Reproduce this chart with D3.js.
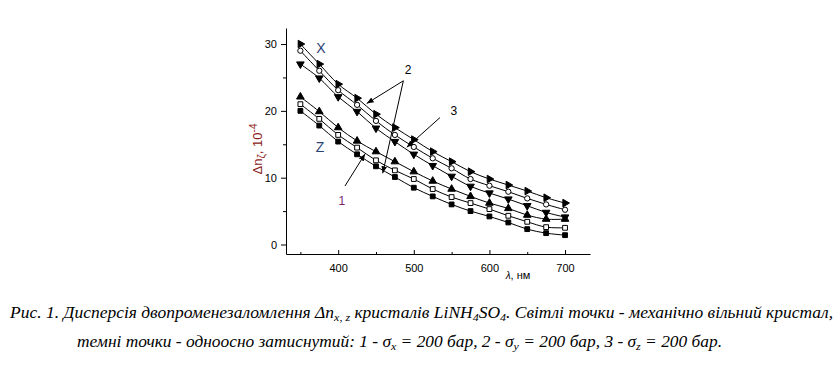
<!DOCTYPE html>
<html><head><meta charset="utf-8">
<script src="https://cdn.jsdelivr.net/npm/d3@7"></script>
<style>html,body{margin:0;padding:0;background:#fff;}svg{display:block;}</style>
</head><body>
<svg id="chart" width="840" height="367"></svg>
<script>
// ---- data ----
const lambda = [350,375,400,425,450,475,500,525,550,575,600,625,650,675,700];
const seriesRightTri = [30.0,27.0,24.0,21.9,19.5,17.5,15.7,13.9,12.4,10.9,9.8,8.9,8.0,7.0,6.2];
const seriesCircle   = [29.0,26.0,23.1,20.9,18.5,16.4,14.6,12.9,11.4,9.8,8.8,7.9,6.9,6.0,5.2];
const seriesDownTri  = [27.0,24.9,22.1,19.9,17.4,15.4,13.5,11.8,10.2,8.7,7.7,6.8,5.8,4.8,4.1];
const seriesUpTri    = [22.1,19.9,17.5,15.5,13.9,12.4,10.9,9.5,8.3,7.2,6.2,5.4,4.4,3.8,3.8];
const seriesOpenSq   = [21.0,18.8,16.4,14.5,12.6,11.1,9.8,8.3,7.1,6.2,5.3,4.3,3.4,2.6,2.5];
const seriesFilledSq = [20.0,17.8,15.4,13.5,11.7,10.1,8.5,7.2,6.0,5.0,4.2,3.3,2.3,1.7,1.4];
const yTicks = [0,10,20,30];
const xTicks = [400,500,600,700];

const svg = d3.select("#chart");
const x = d3.scaleLinear().domain([331,733]).range([286,590]);
const y = d3.scaleLinear().domain([-1.42,32.4]).range([254,28]);

// axes
const yAxis = d3.axisLeft(y).tickValues(yTicks).tickSize(5).tickSizeOuter(0).tickPadding(4);
const gy = svg.append("g").attr("transform","translate(286,0)").call(yAxis);
const yMinor = d3.axisLeft(y).tickValues([5,15,25]).tickSize(3).tickSizeOuter(0).tickFormat("");
const gym = svg.append("g").attr("transform","translate(286,0)").call(yMinor);
gym.select(".domain").remove();

const xAxis = d3.axisBottom(x).tickValues(xTicks).tickSize(-4).tickSizeOuter(0).tickPadding(10);
const gx = svg.append("g").attr("transform","translate(0,254)").call(xAxis);
const xMinor = d3.axisBottom(x).tickValues([350,450,550,650]).tickSize(-2).tickSizeOuter(0).tickFormat("");
const gxm = svg.append("g").attr("transform","translate(0,254)").call(xMinor);
gxm.select(".domain").remove();

[gx,gy].forEach(g=>{
  g.selectAll("text").attr("font-family","Arial, 'Liberation Sans', sans-serif").attr("font-size",11).attr("fill","#000");
});
svg.selectAll(".domain").attr("stroke","#000").attr("stroke-width",1);
svg.selectAll(".tick line").attr("stroke","#000");

// curves
const series = [
  {v:seriesRightTri, shape:"tri", rot:90, fill:"#000"},
  {v:seriesCircle, shape:"circle", rot:0, fill:"#fff"},
  {v:seriesDownTri, shape:"tri", rot:180, fill:"#000"},
  {v:seriesUpTri, shape:"tri", rot:0, fill:"#000"},
  {v:seriesOpenSq, shape:"sq", rot:0, fill:"#fff"},
  {v:seriesFilledSq, shape:"sq", rot:0, fill:"#000"}
];
const line = d3.line().x(d=>x(d[0])).y(d=>y(d[1])).curve(d3.curveCatmullRom.alpha(0.5));
series.forEach(s=>{
  const pts = lambda.map((l,i)=>[l,s.v[i]]);
  svg.append("path").attr("d",line(pts)).attr("fill","none").attr("stroke","#000").attr("stroke-width",1);
});
series.forEach(s=>{
  const pts = lambda.map((l,i)=>[l,s.v[i]]);
  let sym;
  if(s.shape==="tri") sym = d3.symbol().type(d3.symbolTriangle).size(25);
  else if(s.shape==="circle") sym = d3.symbol().type(d3.symbolCircle).size(22);
  else sym = d3.symbol().type(d3.symbolSquare).size(23);
  svg.append("g").selectAll("path").data(pts).join("path")
    .attr("d",sym())
    .attr("transform",d=>`translate(${x(d[0])},${y(d[1])}) rotate(${s.rot})`)
    .attr("fill",s.fill).attr("stroke","#000").attr("stroke-width",1);
});

// arrowhead marker
svg.append("defs").append("marker").attr("id","ah")
  .attr("viewBox","0 0 10 10").attr("refX",10).attr("refY",5)
  .attr("markerWidth",7).attr("markerHeight",7).attr("markerUnits","userSpaceOnUse")
  .attr("orient","auto")
  .append("path").attr("d","M0,1 L10,5 L0,9 Z").attr("fill","#000");

// annotations (data coords)
const arrows = [
  {from:[486.2,24.5], to:[437.7,21.1]},
  {from:[486.2,24.5], to:[458.9,10.66]},
  {from:[534.7,19.0], to:[490.7,14.55]},
  {from:[409,8.76], to:[435.5,13.55]}
];
arrows.forEach(a=>{
  svg.append("line").attr("x1",x(a.from[0])).attr("y1",y(a.from[1]))
    .attr("x2",x(a.to[0])).attr("y2",y(a.to[1]))
    .attr("stroke","#000").attr("stroke-width",1).attr("marker-end","url(#ah)");
});
const labels = [
  {t:"2", at:[492.4,26.1], c:"#000", fs:12},
  {t:"3", at:[553,20.0], c:"#000", fs:12},
  {t:"1", at:[405,6.5], c:"#7a1f6e", fs:12},
  {t:"X", at:[377.3,29.4], c:"#2a4275", fs:14},
  {t:"Z", at:[376,14.6], c:"#2a4275", fs:14}
];
labels.forEach(l=>{
  svg.append("text").attr("x",x(l.at[0])).attr("y",y(l.at[1]))
    .attr("text-anchor","middle").attr("dominant-baseline","central")
    .attr("font-family","Arial, 'Liberation Sans', sans-serif").attr("font-size",l.fs)
    .attr("fill",l.c).text(l.t);
});

// y axis label
const yl = svg.append("text").attr("transform","translate(262,149) rotate(-90)")
  .attr("text-anchor","middle").attr("font-family","Arial, 'Liberation Sans', sans-serif")
  .attr("font-size",13).attr("fill","#8b1a1a");
yl.append("tspan").text("Δn");
yl.append("tspan").attr("dy",3).attr("font-size",10).text("ζ");
yl.append("tspan").attr("dy",-3).text(", 10");
yl.append("tspan").attr("dy",-5).attr("font-size",10).text("-4");

// x axis label
const xl = svg.append("text").attr("x",518).attr("y",279).attr("text-anchor","middle")
  .attr("font-family","Arial, 'Liberation Sans', sans-serif").attr("font-size",11).attr("fill","#000");
xl.append("tspan").attr("font-style","italic").attr("font-size",10).text("λ");
xl.append("tspan").text(",  нм");

// caption
const capFont = "'Liberation Serif', 'Times New Roman', serif";
const c1 = svg.append("text").attr("x",10).attr("y",318).attr("font-family",capFont)
  .attr("font-style","italic").attr("font-size",16).attr("fill","#000")
  .attr("textLength",823).attr("lengthAdjust","spacingAndGlyphs");
c1.append("tspan").text("Рис. 1. Дисперсія двопроменезаломлення Δn");
c1.append("tspan").attr("dy",3).attr("font-size",11).text("x, z");
c1.append("tspan").attr("dy",-3).text(" кристалів LiNH");
c1.append("tspan").attr("dy",3).attr("font-size",11).text("4");
c1.append("tspan").attr("dy",-3).text("SO");
c1.append("tspan").attr("dy",3).attr("font-size",11).text("4");
c1.append("tspan").attr("dy",-3).text(". Світлі точки - механічно вільний кристал,");

const c2 = svg.append("text").attr("x",77).attr("y",347).attr("font-family",capFont)
  .attr("font-style","italic").attr("font-size",16).attr("fill","#000")
  .attr("textLength",645).attr("lengthAdjust","spacingAndGlyphs");
c2.append("tspan").text("темні точки - одноосно затиснутий: 1 - σ");
c2.append("tspan").attr("dy",3).attr("font-size",11).text("x");
c2.append("tspan").attr("dy",-3).text(" = 200 бар, 2 - σ");
c2.append("tspan").attr("dy",3).attr("font-size",11).text("y");
c2.append("tspan").attr("dy",-3).text(" = 200 бар, 3 - σ");
c2.append("tspan").attr("dy",3).attr("font-size",11).text("z");
c2.append("tspan").attr("dy",-3).text(" = 200 бар.");
</script>
</body></html>
